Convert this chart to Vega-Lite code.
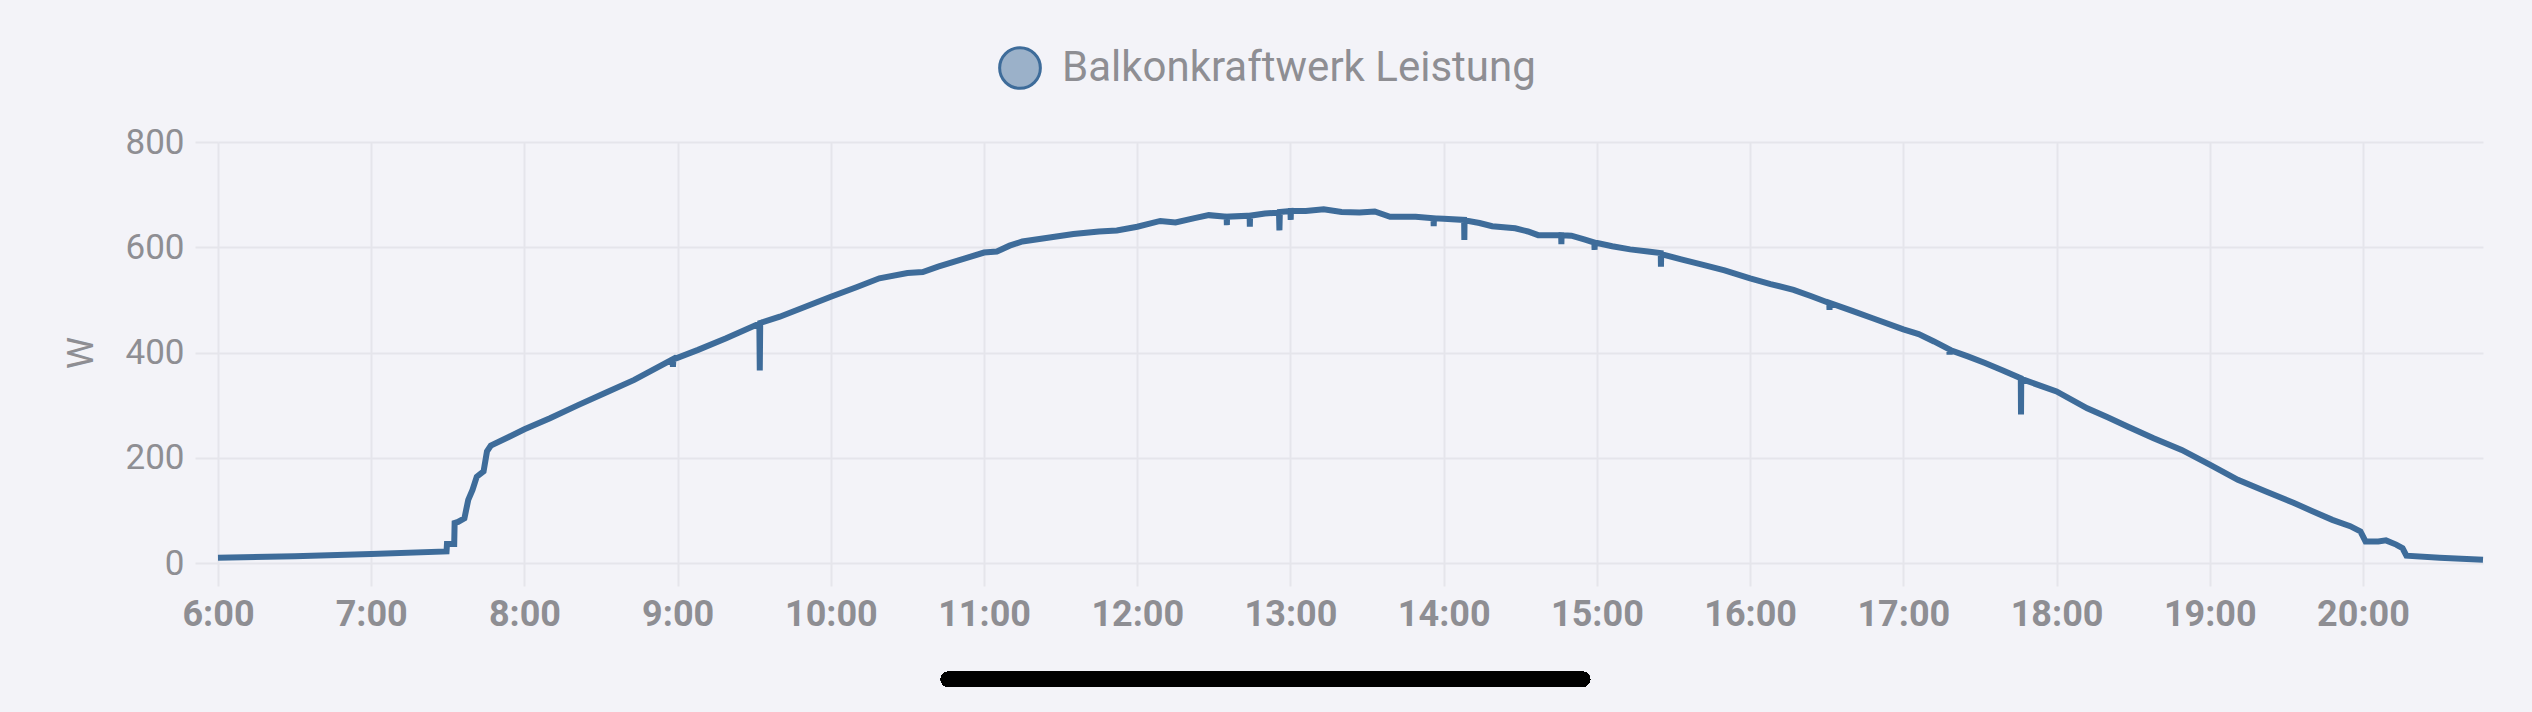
{
  "$schema": "https://vega.github.io/schema/vega-lite/v6.json",
  "width": 2265,
  "height": 421,
  "autosize": {"type": "none"},
  "padding": {"left": 218, "top": 142, "right": 49, "bottom": 149},
  "background": "#f3f3f8",
  "config": {
    "view": {"stroke": null},
    "axis": {"labelFont": "Roboto", "titleFont": "Roboto", "labelColor": "#8e8e93", "gridColor": "#e5e5eb", "gridWidth": 2, "tickColor": "#e5e5eb", "tickWidth": 2, "domain": false},
    "legend": {"labelFont": "Roboto"}
  },
  "data": {"values": [
    {"t": "2024-06-15T06:00:00", "w": 10},
    {"t": "2024-06-15T06:30:00", "w": 13},
    {"t": "2024-06-15T07:00:00", "w": 17},
    {"t": "2024-06-15T07:29:30", "w": 22},
    {"t": "2024-06-15T07:29:40", "w": 36},
    {"t": "2024-06-15T07:32:30", "w": 36},
    {"t": "2024-06-15T07:32:40", "w": 76},
    {"t": "2024-06-15T07:34:00", "w": 78},
    {"t": "2024-06-15T07:36:30", "w": 85},
    {"t": "2024-06-15T07:38:00", "w": 120},
    {"t": "2024-06-15T07:39:40", "w": 139},
    {"t": "2024-06-15T07:41:20", "w": 164},
    {"t": "2024-06-15T07:44:00", "w": 174},
    {"t": "2024-06-15T07:45:20", "w": 212},
    {"t": "2024-06-15T07:46:50", "w": 223},
    {"t": "2024-06-15T08:00:00", "w": 254},
    {"t": "2024-06-15T08:10:00", "w": 275},
    {"t": "2024-06-15T08:21:00", "w": 300},
    {"t": "2024-06-15T08:32:00", "w": 324},
    {"t": "2024-06-15T08:43:00", "w": 348},
    {"t": "2024-06-15T08:58:00", "w": 387},
    {"t": "2024-06-15T08:58:10", "w": 373},
    {"t": "2024-06-15T08:58:20", "w": 387},
    {"t": "2024-06-15T09:08:00", "w": 405},
    {"t": "2024-06-15T09:19:00", "w": 427},
    {"t": "2024-06-15T09:32:00", "w": 455},
    {"t": "2024-06-15T09:32:10", "w": 366},
    {"t": "2024-06-15T09:32:20", "w": 456},
    {"t": "2024-06-15T09:40:00", "w": 468},
    {"t": "2024-06-15T09:50:00", "w": 487},
    {"t": "2024-06-15T10:00:00", "w": 506},
    {"t": "2024-06-15T10:10:00", "w": 524},
    {"t": "2024-06-15T10:19:00", "w": 541},
    {"t": "2024-06-15T10:30:00", "w": 551},
    {"t": "2024-06-15T10:36:00", "w": 553},
    {"t": "2024-06-15T10:42:00", "w": 563},
    {"t": "2024-06-15T10:50:00", "w": 575},
    {"t": "2024-06-15T11:00:00", "w": 590},
    {"t": "2024-06-15T11:05:00", "w": 592},
    {"t": "2024-06-15T11:10:00", "w": 603},
    {"t": "2024-06-15T11:15:00", "w": 611},
    {"t": "2024-06-15T11:25:00", "w": 618},
    {"t": "2024-06-15T11:35:00", "w": 625},
    {"t": "2024-06-15T11:45:00", "w": 630},
    {"t": "2024-06-15T11:52:00", "w": 632},
    {"t": "2024-06-15T12:00:00", "w": 639},
    {"t": "2024-06-15T12:09:00", "w": 650},
    {"t": "2024-06-15T12:15:00", "w": 647},
    {"t": "2024-06-15T12:22:00", "w": 655},
    {"t": "2024-06-15T12:28:00", "w": 661},
    {"t": "2024-06-15T12:35:00", "w": 658},
    {"t": "2024-06-15T12:35:05", "w": 642},
    {"t": "2024-06-15T12:35:10", "w": 658},
    {"t": "2024-06-15T12:44:00", "w": 660},
    {"t": "2024-06-15T12:44:05", "w": 639},
    {"t": "2024-06-15T12:44:10", "w": 660},
    {"t": "2024-06-15T12:50:00", "w": 664},
    {"t": "2024-06-15T12:55:30", "w": 666},
    {"t": "2024-06-15T12:55:40", "w": 632},
    {"t": "2024-06-15T12:55:50", "w": 667},
    {"t": "2024-06-15T13:00:00", "w": 669},
    {"t": "2024-06-15T13:00:05", "w": 652},
    {"t": "2024-06-15T13:00:10", "w": 669},
    {"t": "2024-06-15T13:06:00", "w": 669},
    {"t": "2024-06-15T13:13:00", "w": 672},
    {"t": "2024-06-15T13:20:00", "w": 667},
    {"t": "2024-06-15T13:27:00", "w": 666},
    {"t": "2024-06-15T13:33:00", "w": 668},
    {"t": "2024-06-15T13:39:00", "w": 658},
    {"t": "2024-06-15T13:49:00", "w": 658},
    {"t": "2024-06-15T13:56:00", "w": 655},
    {"t": "2024-06-15T13:56:05", "w": 640},
    {"t": "2024-06-15T13:56:10", "w": 655},
    {"t": "2024-06-15T14:00:00", "w": 654},
    {"t": "2024-06-15T14:08:00", "w": 652},
    {"t": "2024-06-15T14:08:05", "w": 614},
    {"t": "2024-06-15T14:08:10", "w": 651},
    {"t": "2024-06-15T14:14:00", "w": 646},
    {"t": "2024-06-15T14:19:00", "w": 640},
    {"t": "2024-06-15T14:28:00", "w": 636},
    {"t": "2024-06-15T14:33:00", "w": 630},
    {"t": "2024-06-15T14:37:00", "w": 623},
    {"t": "2024-06-15T14:46:00", "w": 623},
    {"t": "2024-06-15T14:46:05", "w": 606},
    {"t": "2024-06-15T14:46:10", "w": 623},
    {"t": "2024-06-15T14:50:00", "w": 622},
    {"t": "2024-06-15T14:55:00", "w": 615},
    {"t": "2024-06-15T14:59:00", "w": 609},
    {"t": "2024-06-15T14:59:05", "w": 595},
    {"t": "2024-06-15T14:59:10", "w": 609},
    {"t": "2024-06-15T15:06:00", "w": 602},
    {"t": "2024-06-15T15:13:00", "w": 596},
    {"t": "2024-06-15T15:20:00", "w": 592},
    {"t": "2024-06-15T15:25:00", "w": 589},
    {"t": "2024-06-15T15:25:05", "w": 563},
    {"t": "2024-06-15T15:25:10", "w": 587},
    {"t": "2024-06-15T15:33:00", "w": 577},
    {"t": "2024-06-15T15:42:00", "w": 566},
    {"t": "2024-06-15T15:50:00", "w": 556},
    {"t": "2024-06-15T16:00:00", "w": 541},
    {"t": "2024-06-15T16:08:00", "w": 530},
    {"t": "2024-06-15T16:17:00", "w": 519},
    {"t": "2024-06-15T16:24:00", "w": 507},
    {"t": "2024-06-15T16:31:00", "w": 494},
    {"t": "2024-06-15T16:31:05", "w": 481},
    {"t": "2024-06-15T16:31:10", "w": 494},
    {"t": "2024-06-15T16:40:00", "w": 479},
    {"t": "2024-06-15T16:48:00", "w": 465},
    {"t": "2024-06-15T17:00:00", "w": 444},
    {"t": "2024-06-15T17:06:00", "w": 435},
    {"t": "2024-06-15T17:12:00", "w": 421},
    {"t": "2024-06-15T17:18:00", "w": 406},
    {"t": "2024-06-15T17:18:05", "w": 396},
    {"t": "2024-06-15T17:18:10", "w": 405},
    {"t": "2024-06-15T17:25:00", "w": 393},
    {"t": "2024-06-15T17:32:00", "w": 380},
    {"t": "2024-06-15T17:39:00", "w": 366},
    {"t": "2024-06-15T17:46:00", "w": 351},
    {"t": "2024-06-15T17:46:05", "w": 282},
    {"t": "2024-06-15T17:46:10", "w": 350},
    {"t": "2024-06-15T17:53:00", "w": 338},
    {"t": "2024-06-15T18:00:00", "w": 326},
    {"t": "2024-06-15T18:12:00", "w": 294},
    {"t": "2024-06-15T18:20:00", "w": 277},
    {"t": "2024-06-15T18:28:00", "w": 259},
    {"t": "2024-06-15T18:38:00", "w": 237},
    {"t": "2024-06-15T18:49:00", "w": 215},
    {"t": "2024-06-15T19:00:00", "w": 187},
    {"t": "2024-06-15T19:11:00", "w": 158},
    {"t": "2024-06-15T19:22:00", "w": 136},
    {"t": "2024-06-15T19:33:00", "w": 114},
    {"t": "2024-06-15T19:40:00", "w": 99},
    {"t": "2024-06-15T19:48:00", "w": 82},
    {"t": "2024-06-15T19:55:00", "w": 70},
    {"t": "2024-06-15T19:59:00", "w": 60},
    {"t": "2024-06-15T20:01:00", "w": 41},
    {"t": "2024-06-15T20:06:00", "w": 41},
    {"t": "2024-06-15T20:09:00", "w": 43},
    {"t": "2024-06-15T20:13:00", "w": 35},
    {"t": "2024-06-15T20:15:30", "w": 28},
    {"t": "2024-06-15T20:17:00", "w": 14},
    {"t": "2024-06-15T20:30:00", "w": 10},
    {"t": "2024-06-15T20:47:00", "w": 6}
  ]},
  "layer": [
    {
      "mark": {"type": "line", "strokeWidth": 6},
      "encoding": {
        "x": {
          "field": "t", "type": "temporal",
          "scale": {"nice": false},
          "axis": {
            "title": null, "format": "%-H:%M",
            "values": [
              {"year": 2024, "month": 6, "date": 15, "hours": 6},
              {"year": 2024, "month": 6, "date": 15, "hours": 7},
              {"year": 2024, "month": 6, "date": 15, "hours": 8},
              {"year": 2024, "month": 6, "date": 15, "hours": 9},
              {"year": 2024, "month": 6, "date": 15, "hours": 10},
              {"year": 2024, "month": 6, "date": 15, "hours": 11},
              {"year": 2024, "month": 6, "date": 15, "hours": 12},
              {"year": 2024, "month": 6, "date": 15, "hours": 13},
              {"year": 2024, "month": 6, "date": 15, "hours": 14},
              {"year": 2024, "month": 6, "date": 15, "hours": 15},
              {"year": 2024, "month": 6, "date": 15, "hours": 16},
              {"year": 2024, "month": 6, "date": 15, "hours": 17},
              {"year": 2024, "month": 6, "date": 15, "hours": 18},
              {"year": 2024, "month": 6, "date": 15, "hours": 19},
              {"year": 2024, "month": 6, "date": 15, "hours": 20}
            ],
            "labelFontSize": 36, "labelFontWeight": "bold", "tickSize": 23, "labelPadding": 11, "labelFlush": false
          }
        },
        "y": {
          "field": "w", "type": "quantitative",
          "scale": {"domain": [0, 800], "nice": false},
          "axis": {
            "title": "W", "titleFontSize": 36, "titleFontWeight": "normal", "titleColor": "#8e8e93",
            "titlePadding": 24, "values": [0, 200, 400, 600, 800], "labelFontSize": 35, "tickSize": 23, "labelPadding": 11
          }
        },
        "color": {
          "datum": "Balkonkraftwerk Leistung", "type": "nominal",
          "scale": {"range": ["#3e6c9a"]},
          "legend": {
            "title": null, "orient": "none", "legendX": 780, "legendY": -96,
            "symbolType": "circle", "symbolSize": 1660, "symbolFillColor": "#9bb1c9", "symbolStrokeColor": "#3e6c9a",
            "symbolStrokeWidth": 3, "symbolOpacity": 1, "labelFontSize": 42, "labelColor": "#8e8e93",
            "labelOffset": 20, "labelLimit": 1000
          }
        }
      }
    },
    {
      "mark": {"type": "rule", "strokeWidth": 15, "strokeCap": "round", "color": "#000000"},
      "encoding": {
        "x": {"datum": {"year": 2024, "month": 6, "date": 15, "hours": 10, "minutes": 46}, "type": "temporal"},
        "x2": {"datum": {"year": 2024, "month": 6, "date": 15, "hours": 14, "minutes": 54, "seconds": 20}},
        "y": {"datum": -221, "type": "quantitative"}
      }
    }
  ]
}
